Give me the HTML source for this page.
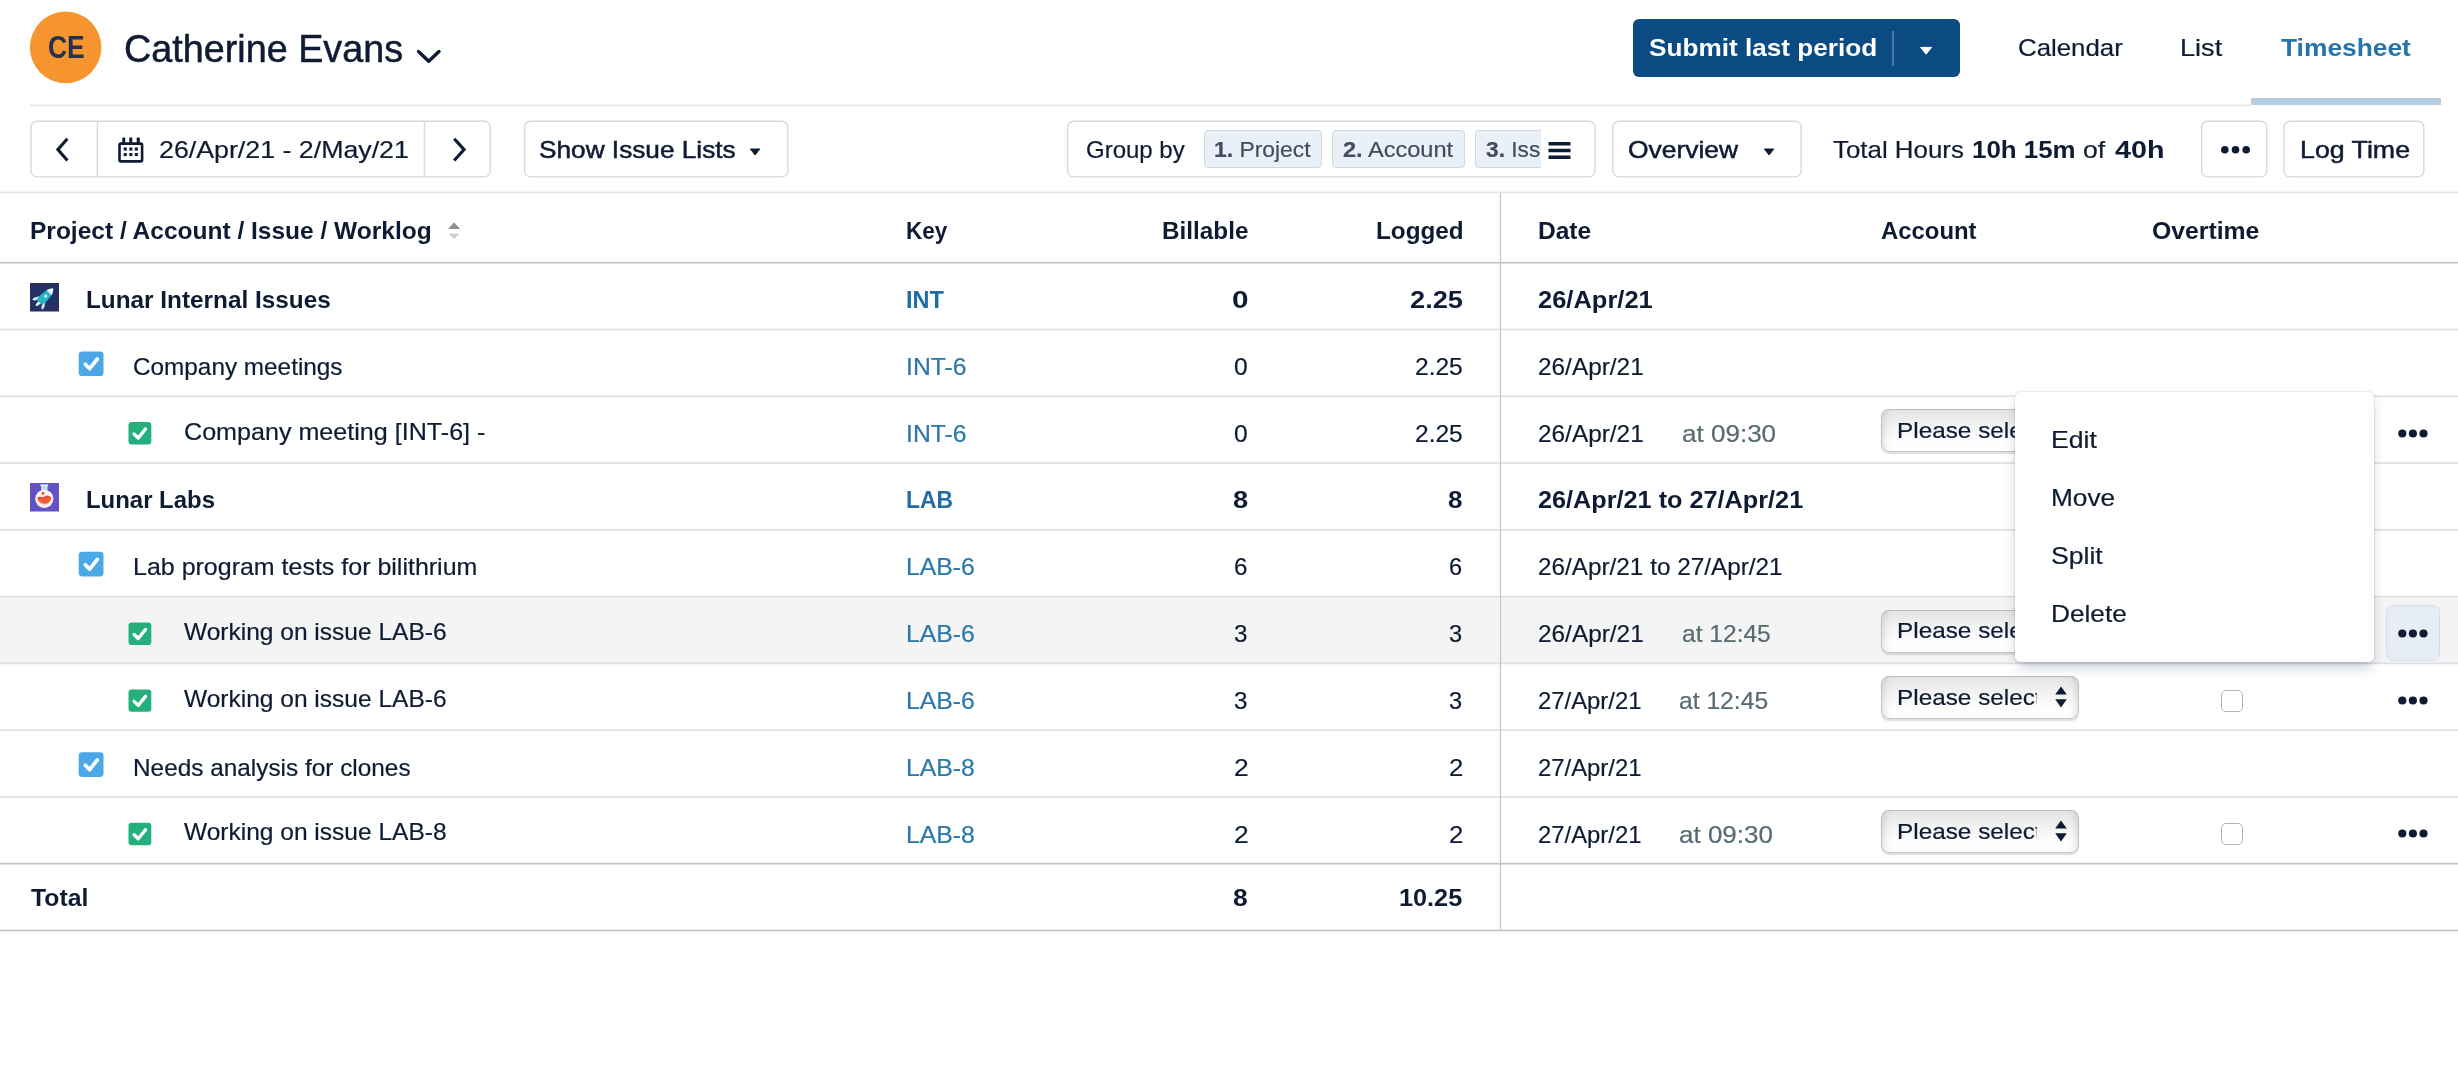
<!DOCTYPE html>
<html><head><meta charset="utf-8"><title>Timesheet</title>
<style>
html,body{margin:0;padding:0;background:#fff;}
body{width:2458px;height:1077px;position:relative;overflow:hidden;font-family:"Liberation Sans",sans-serif;}
.t{position:absolute;white-space:nowrap;transform-origin:0 0;font-family:"Liberation Sans",sans-serif;}
.a{position:absolute;}
.chip{position:absolute;box-sizing:border-box;top:130px;height:38px;background:#E9F0F7;border:1px solid #CFD9E4;border-radius:4px;}
.sel{position:absolute;left:1880.5px;width:198px;height:43px;box-sizing:border-box;border:1.5px solid #C6C6C6;border-top-color:#BDBDBD;border-radius:8px;background:linear-gradient(180deg,#E4E4E4 0%,#F1F1F1 35%,#FDFDFD 75%,#fff 100%);overflow:hidden;box-shadow:0 1.5px 1.5px rgba(0,0,0,.13),inset 9px 0 7px -7px rgba(0,0,0,.13),inset -9px 0 7px -7px rgba(0,0,0,.13);}
.sel svg{position:absolute;left:172.5px;top:9.3px;}
.ocb{position:absolute;left:2221px;width:22px;height:22px;box-sizing:border-box;border:1.5px solid #B4B4B4;border-radius:5px;background:#fff;}
.dots{position:absolute;left:2398px;width:30px;height:9px;line-height:0;font-size:0;}
svg{display:block;}

#wrap{position:absolute;left:0;top:0;width:2458px;height:1077px;will-change:transform;}
</style></head><body><div id="wrap">
<!-- header -->
<svg class="a" style="left:20px;top:0" width="100" height="100" viewBox="0 0 100 100"><circle cx="45.65" cy="47.4" r="35.8" fill="#F6942F"/></svg>
<svg class="a" style="left:414px;top:46px" width="30" height="20" viewBox="0 0 30 20"><path d="M4.5 5.5 L14.7 15.2 L25 5.5" fill="none" stroke="#0F1B33" stroke-width="3.4" stroke-linecap="round" stroke-linejoin="round"/></svg>
<div class="a" style="left:1633px;top:19px;width:327px;height:57.5px;border-radius:6px;background:#0C4B81;"></div>
<div class="a" style="left:1892px;top:31px;width:1.5px;height:35px;background:rgba(255,255,255,.26);"></div>
<svg class="a" style="left:1918px;top:45px" width="16" height="12" viewBox="0 0 16 12"><path d="M2.6 2.4 H13.6 L8.1 9.2 Z" fill="#fff" stroke="#fff" stroke-width="1" stroke-linejoin="round"/></svg>
<div class="a" style="left:2251px;top:98px;width:190px;height:7px;background:#B5CDE1;"></div>
<!-- toolbar -->
<svg class="a" style="left:0;top:0" width="2458" height="200" viewBox="0 0 2458 200">
<rect x="31.0" y="121.2" width="459.2" height="55.7" rx="6" fill="#fff" stroke="#D6D8DC" stroke-width="1.35"/>
<rect x="524.5" y="121.2" width="263.3" height="55.7" rx="6" fill="#fff" stroke="#D6D8DC" stroke-width="1.35"/>
<rect x="1067.6" y="121.2" width="527.4" height="55.7" rx="6" fill="#fff" stroke="#D6D8DC" stroke-width="1.35"/>
<rect x="1612.8" y="121.2" width="188.3" height="55.7" rx="6" fill="#fff" stroke="#D6D8DC" stroke-width="1.35"/>
<rect x="2201.6" y="121.2" width="65.2" height="55.7" rx="6" fill="#fff" stroke="#D6D8DC" stroke-width="1.35"/>
<rect x="2284.0" y="121.2" width="139.8" height="55.7" rx="6" fill="#fff" stroke="#D6D8DC" stroke-width="1.35"/>
<path d="M97.4 121.2 V176.9 M424.5 121.2 V176.9" stroke="#D9DBDE" stroke-width="1.5" fill="none"/>
<path d="M67.4 138.7 L57.9 149.6 L67.4 160.5" fill="none" stroke="#0F1B33" stroke-width="3.1" stroke-linejoin="miter"/>
<path d="M454.2 138.7 L464.1 149.6 L454.2 160.5" fill="none" stroke="#0F1B33" stroke-width="3.1" stroke-linejoin="miter"/>
<g fill="#0F1B33"><rect x="119.5" y="143.6" width="22.6" height="17.8" rx="1.3" fill="none" stroke="#0F1B33" stroke-width="2.6"/>
<rect x="122.3" y="137.5" width="2.9" height="6" rx="0.5"/>
<rect x="129.3" y="137.5" width="3.0" height="6" rx="0.5"/>
<rect x="136.7" y="137.5" width="3.1" height="6" rx="0.5"/>
<rect x="123.7" y="147.5" width="3.1" height="3.1"/>
<rect x="129.3" y="147.5" width="3.1" height="3.1"/>
<rect x="134.8" y="147.5" width="3.1" height="3.1"/>
<rect x="123.7" y="153.0" width="3.1" height="3.1"/>
<rect x="129.3" y="153.0" width="3.1" height="3.1"/>
<rect x="134.8" y="153.0" width="3.1" height="3.1"/>
</g></svg>
<svg class="a" style="left:747px;top:145.6px" width="16" height="12" viewBox="0 0 16 12"><path d="M3.4 3 H12.8 L8.1 9 Z" fill="#0F1B33" stroke="#0F1B33" stroke-width="1" stroke-linejoin="round"/></svg>
<div class="chip" style="left:1204px;width:118px;"></div>
<div class="chip" style="left:1332px;width:133px;"></div>
<div class="chip" style="left:1475px;width:65.5px;border-right:none;border-radius:4px 0 0 4px;"></div>
<svg class="a" style="left:1547px;top:139.6px" width="26" height="22" viewBox="0 0 26 22"><g fill="#0F1B33"><rect x="1.5" y="2" width="22" height="3.6" rx="0.6"/><rect x="1.5" y="8.7" width="22" height="3.6" rx="0.6"/><rect x="1.5" y="15.4" width="22" height="3.6" rx="0.6"/></g></svg>
<svg class="a" style="left:1761px;top:145.6px" width="16" height="12" viewBox="0 0 16 12"><path d="M3.4 3 H12.8 L8.1 9 Z" fill="#0F1B33" stroke="#0F1B33" stroke-width="1" stroke-linejoin="round"/></svg>
<svg class="a" style="left:2220px;top:145px" width="32" height="10" viewBox="0 0 32 10"><g fill="#0F1B33"><circle cx="4.8" cy="4.7" r="3.8"/><circle cx="15.5" cy="4.7" r="3.8"/><circle cx="26.2" cy="4.7" r="3.8"/></g></svg>
<!-- table -->
<div class="a" style="left:0;top:597px;width:2458px;height:66px;background:#F4F4F5;"></div>
<div class="a" style="left:30px;top:104px;width:2221px;height:1px;background:rgba(228,230,234,0.50)"></div>
<div class="a" style="left:30px;top:105px;width:2221px;height:1px;background:rgba(228,230,234,1.00)"></div>
<div class="a" style="left:30px;top:106px;width:2221px;height:1px;background:rgba(228,230,234,0.10)"></div>
<div class="a" style="left:0px;top:191px;width:2458px;height:1px;background:rgba(226,228,232,0.40)"></div>
<div class="a" style="left:0px;top:192px;width:2458px;height:1px;background:rgba(226,228,232,1.00)"></div>
<div class="a" style="left:0px;top:193px;width:2458px;height:1px;background:rgba(226,228,232,0.20)"></div>
<div class="a" style="left:0px;top:261px;width:2458px;height:1px;background:rgba(190,194,199,0.10)"></div>
<div class="a" style="left:0px;top:262px;width:2458px;height:1px;background:rgba(190,194,199,1.00)"></div>
<div class="a" style="left:0px;top:263px;width:2458px;height:1px;background:rgba(190,194,199,0.50)"></div>
<div class="a" style="left:0px;top:328px;width:2458px;height:1px;background:rgba(222,224,228,0.37)"></div>
<div class="a" style="left:0px;top:329px;width:2458px;height:1px;background:rgba(222,224,228,1.00)"></div>
<div class="a" style="left:0px;top:330px;width:2458px;height:1px;background:rgba(222,224,228,0.33)"></div>
<div class="a" style="left:0px;top:395px;width:2458px;height:1px;background:rgba(222,224,228,0.59)"></div>
<div class="a" style="left:0px;top:396px;width:2458px;height:1px;background:rgba(222,224,228,1.00)"></div>
<div class="a" style="left:0px;top:397px;width:2458px;height:1px;background:rgba(222,224,228,0.11)"></div>
<div class="a" style="left:0px;top:462px;width:2458px;height:1px;background:rgba(222,224,228,0.81)"></div>
<div class="a" style="left:0px;top:463px;width:2458px;height:1px;background:rgba(222,224,228,0.89)"></div>
<div class="a" style="left:0px;top:528px;width:2458px;height:1px;background:rgba(222,224,228,0.03)"></div>
<div class="a" style="left:0px;top:529px;width:2458px;height:1px;background:rgba(222,224,228,1.00)"></div>
<div class="a" style="left:0px;top:530px;width:2458px;height:1px;background:rgba(222,224,228,0.67)"></div>
<div class="a" style="left:0px;top:595px;width:2458px;height:1px;background:rgba(222,224,228,0.25)"></div>
<div class="a" style="left:0px;top:596px;width:2458px;height:1px;background:rgba(222,224,228,1.00)"></div>
<div class="a" style="left:0px;top:597px;width:2458px;height:1px;background:rgba(222,224,228,0.45)"></div>
<div class="a" style="left:0px;top:662px;width:2458px;height:1px;background:rgba(222,224,228,0.47)"></div>
<div class="a" style="left:0px;top:663px;width:2458px;height:1px;background:rgba(222,224,228,1.00)"></div>
<div class="a" style="left:0px;top:664px;width:2458px;height:1px;background:rgba(222,224,228,0.23)"></div>
<div class="a" style="left:0px;top:729px;width:2458px;height:1px;background:rgba(222,224,228,0.69)"></div>
<div class="a" style="left:0px;top:730px;width:2458px;height:1px;background:rgba(222,224,228,1.00)"></div>
<div class="a" style="left:0px;top:796px;width:2458px;height:1px;background:rgba(222,224,228,0.91)"></div>
<div class="a" style="left:0px;top:797px;width:2458px;height:1px;background:rgba(222,224,228,0.79)"></div>
<div class="a" style="left:0px;top:862px;width:2458px;height:1px;background:rgba(190,194,199,0.08)"></div>
<div class="a" style="left:0px;top:863px;width:2458px;height:1px;background:rgba(190,194,199,1.00)"></div>
<div class="a" style="left:0px;top:864px;width:2458px;height:1px;background:rgba(190,194,199,0.52)"></div>
<div class="a" style="left:0px;top:929px;width:2458px;height:1px;background:rgba(190,194,199,0.30)"></div>
<div class="a" style="left:0px;top:930px;width:2458px;height:1px;background:rgba(190,194,199,1.00)"></div>
<div class="a" style="left:0px;top:931px;width:2458px;height:1px;background:rgba(190,194,199,0.30)"></div>
<div class="a" style="left:1499px;top:193px;width:1px;height:738px;background:rgba(196,201,207,0.15)"></div>
<div class="a" style="left:1500px;top:193px;width:1px;height:738px;background:rgba(196,201,207,1.00)"></div>
<div class="a" style="left:1501px;top:193px;width:1px;height:738px;background:rgba(196,201,207,0.15)"></div>
<svg class="a" style="left:446px;top:220px" width="16" height="20" viewBox="0 0 16 20"><path d="M2.1 9 L8.1 2.2 L14.1 9 Z" fill="#8E9094"/><path d="M2.8 13.8 L8.1 19 L13.4 13.8 Z" fill="#CDCFD2"/></svg>
<!-- project icons -->
<svg class="a" style="left:30px;top:283px" width="29" height="28.5" viewBox="0 0 29 28.5">
 <rect width="29" height="28.5" fill="#263163"/>
 <g transform="translate(13.6 15.2) rotate(45)">
  <path d="M0 -13.6 C3.8 -10 4.8 -3 4.2 6 L-4.2 6 C-4.8 -3 -3.8 -10 0 -13.6 Z" fill="#25B3CB"/>
  <path d="M0 -13.6 C1.9 -11.8 2.9 -9.9 3.6 -7.8 L-3.6 -7.8 C-2.9 -9.9 -1.9 -11.8 0 -13.6 Z" fill="#E9F9FB"/>
  <circle cx="0" cy="-3" r="1.6" fill="#D8F4F8"/>
  <path d="M-4.2 1.6 L-7.2 6.6 L-6.8 9.4 L-3.9 7 Z" fill="#D6F2F6"/><path d="M4.2 1.6 L7.2 6.6 L6.8 9.4 L3.9 7 Z" fill="#D6F2F6"/>
  <path d="M-1.7 6 L1.7 6 L0.9 10.6 L-0.9 10.6 Z" fill="#F4FCFD"/>
 </g>
</svg>
<svg class="a" style="left:30px;top:483px" width="29" height="28.5" viewBox="0 0 29 28.5">
 <rect width="29" height="28.5" fill="#6152C6"/>
 <path d="M10.9 2.2 L17.7 2.2 L17.3 9 L11.3 9 Z" fill="#C4DBF7"/>
 <path d="M10.4 1.4 H18.2 V3 H10.4 Z" fill="#E6F0FC"/>
 <circle cx="14.3" cy="15.8" r="9.1" fill="#FCF4F1"/>
 <path d="M7.3 14.6 C9.8 12.2 12.2 15.8 14.8 13.6 C17.2 11.6 19.6 12.8 21.3 14.8 A7.1 7.1 0 0 1 7.3 14.6 Z" fill="#E8452C"/>
 <path d="M7.6 16 C10 14 12.2 17 14.8 15.2 C17.2 13.6 19.4 14.2 21.1 16 A6.9 6.9 0 0 1 7.6 16 Z" fill="#F4703F" opacity=".6"/>
 <circle cx="13" cy="10.4" r="1.4" fill="#E8452C"/>
</svg>
<svg class="a" style="left:76px;top:349px" width="32" height="32" viewBox="0 0 32 32"><rect x="2.7" y="2.40" width="24.8" height="24.7" rx="3.4" fill="#4AA8E8"/><path d="M9.30 15.30 L13.70 19.70 L21.30 10.00" fill="none" stroke="#fff" stroke-width="3.7" stroke-linecap="round" stroke-linejoin="round"/></svg>
<svg class="a" style="left:76px;top:549px" width="32" height="32" viewBox="0 0 32 32"><rect x="2.7" y="2.80" width="24.8" height="24.7" rx="3.4" fill="#4AA8E8"/><path d="M9.30 15.70 L13.70 20.10 L21.30 10.40" fill="none" stroke="#fff" stroke-width="3.7" stroke-linecap="round" stroke-linejoin="round"/></svg>
<svg class="a" style="left:76px;top:750px" width="32" height="32" viewBox="0 0 32 32"><rect x="2.7" y="2.30" width="24.8" height="24.7" rx="3.4" fill="#4AA8E8"/><path d="M9.30 15.20 L13.70 19.60 L21.30 9.90" fill="none" stroke="#fff" stroke-width="3.7" stroke-linecap="round" stroke-linejoin="round"/></svg>
<svg class="a" style="left:126px;top:420px" width="30" height="30" viewBox="0 0 30 30"><rect x="2.5" y="2.00" width="22.8" height="22.4" rx="3" fill="#24B07D"/><path d="M8.10 14.00 L12.20 18.00 L19.50 9.00" fill="none" stroke="#fff" stroke-width="3.4" stroke-linecap="round" stroke-linejoin="round"/></svg>
<svg class="a" style="left:126px;top:620px" width="30" height="30" viewBox="0 0 30 30"><rect x="2.5" y="2.50" width="22.8" height="22.4" rx="3" fill="#24B07D"/><path d="M8.10 14.50 L12.20 18.50 L19.50 9.50" fill="none" stroke="#fff" stroke-width="3.4" stroke-linecap="round" stroke-linejoin="round"/></svg>
<svg class="a" style="left:126px;top:687px" width="30" height="30" viewBox="0 0 30 30"><rect x="2.5" y="2.40" width="22.8" height="22.4" rx="3" fill="#24B07D"/><path d="M8.10 14.40 L12.20 18.40 L19.50 9.40" fill="none" stroke="#fff" stroke-width="3.4" stroke-linecap="round" stroke-linejoin="round"/></svg>
<svg class="a" style="left:126px;top:820px" width="30" height="30" viewBox="0 0 30 30"><rect x="2.5" y="2.80" width="22.8" height="22.4" rx="3" fill="#24B07D"/><path d="M8.10 14.80 L12.20 18.80 L19.50 9.80" fill="none" stroke="#fff" stroke-width="3.4" stroke-linecap="round" stroke-linejoin="round"/></svg>
<div class="sel" style="top:408.8px"><svg width="14" height="24" viewBox="0 0 14 24"><path d="M1.2 8.6 L7 0.6 L12.8 8.6 Z" fill="#0F1B33"/><path d="M1.2 13.2 L7 21.4 L12.8 13.2 Z" fill="#0F1B33"/></svg></div>
<div class="sel" style="top:609.5px"><svg width="14" height="24" viewBox="0 0 14 24"><path d="M1.2 8.6 L7 0.6 L12.8 8.6 Z" fill="#0F1B33"/><path d="M1.2 13.2 L7 21.4 L12.8 13.2 Z" fill="#0F1B33"/></svg></div>
<div class="sel" style="top:676px"><svg width="14" height="24" viewBox="0 0 14 24"><path d="M1.2 8.6 L7 0.6 L12.8 8.6 Z" fill="#0F1B33"/><path d="M1.2 13.2 L7 21.4 L12.8 13.2 Z" fill="#0F1B33"/></svg></div>
<div class="sel" style="top:809.8px"><svg width="14" height="24" viewBox="0 0 14 24"><path d="M1.2 8.6 L7 0.6 L12.8 8.6 Z" fill="#0F1B33"/><path d="M1.2 13.2 L7 21.4 L12.8 13.2 Z" fill="#0F1B33"/></svg></div>
<div class="ocb" style="top:689.5px"></div>
<div class="ocb" style="top:823.3px"></div>
<div class="a" style="left:2386px;top:604.5px;width:54px;height:56px;box-sizing:border-box;border:1px solid #D3DEEA;border-radius:7px;background:#E6EDF5;"></div>
<div class="dots" style="top:428.5px"><svg width="30" height="9" viewBox="0 0 30 9"><g fill="#0F1B33"><circle cx="4.3" cy="4.5" r="4.1"/><circle cx="14.9" cy="4.5" r="4.1"/><circle cx="25.5" cy="4.5" r="4.1"/></g></svg></div>
<div class="dots" style="top:629.0px"><svg width="30" height="9" viewBox="0 0 30 9"><g fill="#0F1B33"><circle cx="4.3" cy="4.5" r="4.1"/><circle cx="14.9" cy="4.5" r="4.1"/><circle cx="25.5" cy="4.5" r="4.1"/></g></svg></div>
<div class="dots" style="top:695.5px"><svg width="30" height="9" viewBox="0 0 30 9"><g fill="#0F1B33"><circle cx="4.3" cy="4.5" r="4.1"/><circle cx="14.9" cy="4.5" r="4.1"/><circle cx="25.5" cy="4.5" r="4.1"/></g></svg></div>
<div class="dots" style="top:829.0px"><svg width="30" height="9" viewBox="0 0 30 9"><g fill="#0F1B33"><circle cx="4.3" cy="4.5" r="4.1"/><circle cx="14.9" cy="4.5" r="4.1"/><circle cx="25.5" cy="4.5" r="4.1"/></g></svg></div>

<span class="t" id="t0" style="left:47.55px;top:32.2px;font-size:31px;line-height:31px;font-weight:bold;color:#25314F;transform:scaleX(0.8537)">CE</span>
<span class="t" id="t1" style="left:123.51px;top:29.5px;font-size:38px;line-height:38px;font-weight:normal;color:#0F1B33;-webkit-text-stroke:0.5px #0F1B33;transform:scaleX(0.9935)">Catherine Evans</span>
<span class="t" id="t2" style="left:1649.13px;top:36.1px;font-size:24.5px;line-height:24.5px;font-weight:bold;color:#fff;transform:scaleX(1.0682)">Submit last period</span>
<span class="t" id="t3" style="left:2018.12px;top:36.4px;font-size:24px;line-height:24px;font-weight:normal;color:#0F1B33;-webkit-text-stroke:0.2px;transform:scaleX(1.0760)">Calendar</span>
<span class="t" id="t4" style="left:2180.24px;top:36.4px;font-size:24px;line-height:24px;font-weight:normal;color:#0F1B33;-webkit-text-stroke:0.2px;transform:scaleX(1.1286)">List</span>
<span class="t" id="t5" style="left:2281.10px;top:36.0px;font-size:24.5px;line-height:24.5px;font-weight:bold;color:#2774AA;transform:scaleX(1.0758)">Timesheet</span>
<span class="t" id="t6" style="left:158.89px;top:138.0px;font-size:24px;line-height:24px;font-weight:normal;color:#0F1B33;-webkit-text-stroke:0.2px;transform:scaleX(1.1149)">26/Apr/21 - 2/May/21</span>
<span class="t" id="t7" style="left:538.91px;top:138.0px;font-size:24px;line-height:24px;font-weight:normal;color:#0F1B33;-webkit-text-stroke:0.5px #0F1B33;transform:scaleX(1.0922)">Show Issue Lists</span>
<span class="t" id="t8" style="left:1086.00px;top:138.0px;font-size:24px;line-height:24px;font-weight:normal;color:#0F1B33;-webkit-text-stroke:0.2px;transform:scaleX(1.0000)">Group by</span>
<span class="t" id="t9" style="left:1214.48px;top:139.1px;font-size:22.5px;line-height:22.5px;font-weight:normal;color:#3E4E5E;-webkit-text-stroke:0.2px;transform:scaleX(1.0160)"><b>1.</b> Project</span>
<span class="t" id="t10" style="left:1343.45px;top:139.1px;font-size:22.5px;line-height:22.5px;font-weight:normal;color:#3E4E5E;-webkit-text-stroke:0.2px;transform:scaleX(1.0481)"><b>2.</b> Account</span>
<span class="t" id="t11" style="left:1485.99px;top:139.1px;font-size:22.5px;line-height:22.5px;font-weight:normal;color:#3E4E5E;-webkit-text-stroke:0.2px;transform:scaleX(1.0096)"><b>3.</b> Iss</span>
<span class="t" id="t12" style="left:1628.40px;top:138.0px;font-size:24px;line-height:24px;font-weight:normal;color:#0F1B33;-webkit-text-stroke:0.5px #0F1B33;transform:scaleX(1.1010)">Overview</span>
<span class="t" id="t13" style="left:1832.60px;top:138.0px;font-size:24px;line-height:24px;font-weight:normal;color:#0F1B33;-webkit-text-stroke:0.2px;transform:scaleX(1.0777)">Total Hours</span>
<span class="t" id="t14" style="left:1972.32px;top:138.0px;font-size:24px;line-height:24px;font-weight:bold;color:#0F1B33;transform:scaleX(1.0777)">10h 15m</span>
<span class="t" id="t15" style="left:2082.89px;top:138.0px;font-size:24px;line-height:24px;font-weight:normal;color:#0F1B33;-webkit-text-stroke:0.2px;transform:scaleX(1.1053)">of</span>
<span class="t" id="t16" style="left:2115.40px;top:138.0px;font-size:24px;line-height:24px;font-weight:bold;color:#0F1B33;transform:scaleX(1.1950)">40h</span>
<span class="t" id="t17" style="left:2299.77px;top:138.0px;font-size:24px;line-height:24px;font-weight:normal;color:#0F1B33;-webkit-text-stroke:0.5px #0F1B33;transform:scaleX(1.1146)">Log Time</span>
<span class="t" id="t18" style="left:29.76px;top:219.3px;font-size:24px;line-height:24px;font-weight:bold;color:#0F1B33;transform:scaleX(1.0210)">Project / Account / Issue / Worklog</span>
<span class="t" id="t19" style="left:906.02px;top:219.3px;font-size:24px;line-height:24px;font-weight:bold;color:#0F1B33;transform:scaleX(0.9381)">Key</span>
<span class="t" id="t20" style="left:1161.68px;top:219.3px;font-size:24px;line-height:24px;font-weight:bold;color:#0F1B33;transform:scaleX(1.0120)">Billable</span>
<span class="t" id="t21" style="left:1375.68px;top:219.3px;font-size:24px;line-height:24px;font-weight:bold;color:#0F1B33;transform:scaleX(1.0120)">Logged</span>
<span class="t" id="t22" style="left:1537.86px;top:219.3px;font-size:24px;line-height:24px;font-weight:bold;color:#0F1B33;transform:scaleX(1.0224)">Date</span>
<span class="t" id="t23" style="left:1881.31px;top:219.3px;font-size:24px;line-height:24px;font-weight:bold;color:#0F1B33;transform:scaleX(0.9947)">Account</span>
<span class="t" id="t24" style="left:2151.77px;top:219.3px;font-size:24px;line-height:24px;font-weight:bold;color:#0F1B33;transform:scaleX(1.0314)">Overtime</span>
<span class="t" id="t25" style="left:85.67px;top:288.3px;font-size:24px;line-height:24px;font-weight:bold;color:#0F1B33;transform:scaleX(1.0139)">Lunar Internal Issues</span>
<span class="t" id="t26" style="left:906.14px;top:288.3px;font-size:24px;line-height:24px;font-weight:bold;color:#1F6DA6;transform:scaleX(0.9784)">INT</span>
<span class="t" id="t27" style="left:1232.46px;top:288.3px;font-size:24px;line-height:24px;font-weight:bold;color:#0F1B33;transform:scaleX(1.2364)">0</span>
<span class="t" id="t28" style="left:1409.87px;top:288.3px;font-size:24px;line-height:24px;font-weight:bold;color:#0F1B33;transform:scaleX(1.1333)">2.25</span>
<span class="t" id="t29" style="left:1537.94px;top:288.3px;font-size:24px;line-height:24px;font-weight:bold;color:#0F1B33;transform:scaleX(1.0617)">26/Apr/21</span>
<span class="t" id="t30" style="left:133.29px;top:354.8px;font-size:24px;line-height:24px;font-weight:normal;color:#0F1B33;-webkit-text-stroke:0.2px;transform:scaleX(1.0132)">Company meetings</span>
<span class="t" id="t31" style="left:906.14px;top:354.8px;font-size:24px;line-height:24px;font-weight:normal;color:#2C78A9;-webkit-text-stroke:0.2px;transform:scaleX(1.0321)">INT-6</span>
<span class="t" id="t32" style="left:1233.97px;top:354.8px;font-size:24px;line-height:24px;font-weight:normal;color:#0F1B33;-webkit-text-stroke:0.2px;transform:scaleX(1.0250)">0</span>
<span class="t" id="t33" style="left:1414.98px;top:354.8px;font-size:24px;line-height:24px;font-weight:normal;color:#0F1B33;-webkit-text-stroke:0.2px;transform:scaleX(1.0222)">2.25</span>
<span class="t" id="t34" style="left:1537.98px;top:354.8px;font-size:24px;line-height:24px;font-weight:normal;color:#0F1B33;-webkit-text-stroke:0.2px;transform:scaleX(1.0157)">26/Apr/21</span>
<span class="t" id="t35" style="left:183.75px;top:420.0px;font-size:24px;line-height:24px;font-weight:normal;color:#0F1B33;-webkit-text-stroke:0.2px;transform:scaleX(1.0462)">Company meeting [INT-6] -</span>
<span class="t" id="t36" style="left:906.14px;top:421.5px;font-size:24px;line-height:24px;font-weight:normal;color:#2C78A9;-webkit-text-stroke:0.2px;transform:scaleX(1.0321)">INT-6</span>
<span class="t" id="t37" style="left:1233.97px;top:421.5px;font-size:24px;line-height:24px;font-weight:normal;color:#0F1B33;-webkit-text-stroke:0.2px;transform:scaleX(1.0250)">0</span>
<span class="t" id="t38" style="left:1414.98px;top:421.5px;font-size:24px;line-height:24px;font-weight:normal;color:#0F1B33;-webkit-text-stroke:0.2px;transform:scaleX(1.0222)">2.25</span>
<span class="t" id="t39" style="left:1537.98px;top:421.5px;font-size:24px;line-height:24px;font-weight:normal;color:#0F1B33;-webkit-text-stroke:0.2px;transform:scaleX(1.0157)">26/Apr/21</span>
<span class="t" id="t40" style="left:1681.52px;top:421.5px;font-size:24px;line-height:24px;font-weight:normal;color:#586A71;-webkit-text-stroke:0.2px;transform:scaleX(1.0847)">at 09:30</span>
<span class="t" id="t41" style="left:85.71px;top:488.3px;font-size:24px;line-height:24px;font-weight:bold;color:#0F1B33;transform:scaleX(0.9968)">Lunar Labs</span>
<span class="t" id="t42" style="left:906.00px;top:488.3px;font-size:24px;line-height:24px;font-weight:bold;color:#1F6DA6;transform:scaleX(0.9522)">LAB</span>
<span class="t" id="t43" style="left:1232.57px;top:488.3px;font-size:24px;line-height:24px;font-weight:bold;color:#0F1B33;transform:scaleX(1.1333)">8</span>
<span class="t" id="t44" style="left:1447.92px;top:488.3px;font-size:24px;line-height:24px;font-weight:bold;color:#0F1B33;transform:scaleX(1.0833)">8</span>
<span class="t" id="t45" style="left:1537.95px;top:488.3px;font-size:24px;line-height:24px;font-weight:bold;color:#0F1B33;transform:scaleX(1.0518)">26/Apr/21 to 27/Apr/21</span>
<span class="t" id="t46" style="left:133.32px;top:555.2px;font-size:24px;line-height:24px;font-weight:normal;color:#0F1B33;-webkit-text-stroke:0.2px;transform:scaleX(1.0410)">Lab program tests for bilithrium</span>
<span class="t" id="t47" style="left:906.03px;top:555.2px;font-size:24px;line-height:24px;font-weight:normal;color:#2C78A9;-webkit-text-stroke:0.2px;transform:scaleX(1.0328)">LAB-6</span>
<span class="t" id="t48" style="left:1234.19px;top:555.2px;font-size:24px;line-height:24px;font-weight:normal;color:#0F1B33;-webkit-text-stroke:0.2px;transform:scaleX(1.0083)">6</span>
<span class="t" id="t49" style="left:1449.22px;top:555.2px;font-size:24px;line-height:24px;font-weight:normal;color:#0F1B33;-webkit-text-stroke:0.2px;transform:scaleX(0.9833)">6</span>
<span class="t" id="t50" style="left:1537.99px;top:555.2px;font-size:24px;line-height:24px;font-weight:normal;color:#0F1B33;-webkit-text-stroke:0.2px;transform:scaleX(1.0125)">26/Apr/21 to 27/Apr/21</span>
<span class="t" id="t51" style="left:183.90px;top:620.0px;font-size:24px;line-height:24px;font-weight:normal;color:#0F1B33;-webkit-text-stroke:0.2px;transform:scaleX(1.0215)">Working on issue LAB-6</span>
<span class="t" id="t52" style="left:906.03px;top:622.0px;font-size:24px;line-height:24px;font-weight:normal;color:#2C78A9;-webkit-text-stroke:0.2px;transform:scaleX(1.0328)">LAB-6</span>
<span class="t" id="t53" style="left:1234.19px;top:622.0px;font-size:24px;line-height:24px;font-weight:normal;color:#0F1B33;-webkit-text-stroke:0.2px;transform:scaleX(1.0083)">3</span>
<span class="t" id="t54" style="left:1449.22px;top:622.0px;font-size:24px;line-height:24px;font-weight:normal;color:#0F1B33;-webkit-text-stroke:0.2px;transform:scaleX(0.9833)">3</span>
<span class="t" id="t55" style="left:1537.98px;top:622.0px;font-size:24px;line-height:24px;font-weight:normal;color:#0F1B33;-webkit-text-stroke:0.2px;transform:scaleX(1.0157)">26/Apr/21</span>
<span class="t" id="t56" style="left:1681.58px;top:622.0px;font-size:24px;line-height:24px;font-weight:normal;color:#586A71;-webkit-text-stroke:0.2px;transform:scaleX(1.0235)">at 12:45</span>
<span class="t" id="t57" style="left:183.90px;top:686.5px;font-size:24px;line-height:24px;font-weight:normal;color:#0F1B33;-webkit-text-stroke:0.2px;transform:scaleX(1.0215)">Working on issue LAB-6</span>
<span class="t" id="t58" style="left:906.03px;top:688.6px;font-size:24px;line-height:24px;font-weight:normal;color:#2C78A9;-webkit-text-stroke:0.2px;transform:scaleX(1.0328)">LAB-6</span>
<span class="t" id="t59" style="left:1234.19px;top:688.6px;font-size:24px;line-height:24px;font-weight:normal;color:#0F1B33;-webkit-text-stroke:0.2px;transform:scaleX(1.0083)">3</span>
<span class="t" id="t60" style="left:1449.22px;top:688.6px;font-size:24px;line-height:24px;font-weight:normal;color:#0F1B33;-webkit-text-stroke:0.2px;transform:scaleX(0.9833)">3</span>
<span class="t" id="t61" style="left:1538.01px;top:688.6px;font-size:24px;line-height:24px;font-weight:normal;color:#0F1B33;-webkit-text-stroke:0.2px;transform:scaleX(0.9941)">27/Apr/21</span>
<span class="t" id="t62" style="left:1679.27px;top:688.6px;font-size:24px;line-height:24px;font-weight:normal;color:#586A71;-webkit-text-stroke:0.2px;transform:scaleX(1.0271)">at 12:45</span>
<span class="t" id="t63" style="left:133.27px;top:755.6px;font-size:24px;line-height:24px;font-weight:normal;color:#0F1B33;-webkit-text-stroke:0.2px;transform:scaleX(1.0151)">Needs analysis for clones</span>
<span class="t" id="t64" style="left:906.03px;top:755.6px;font-size:24px;line-height:24px;font-weight:normal;color:#2C78A9;-webkit-text-stroke:0.2px;transform:scaleX(1.0328)">LAB-8</span>
<span class="t" id="t65" style="left:1234.10px;top:755.6px;font-size:24px;line-height:24px;font-weight:normal;color:#0F1B33;-webkit-text-stroke:0.2px;transform:scaleX(1.1000)">2</span>
<span class="t" id="t66" style="left:1449.13px;top:755.6px;font-size:24px;line-height:24px;font-weight:normal;color:#0F1B33;-webkit-text-stroke:0.2px;transform:scaleX(1.0727)">2</span>
<span class="t" id="t67" style="left:1538.01px;top:755.6px;font-size:24px;line-height:24px;font-weight:normal;color:#0F1B33;-webkit-text-stroke:0.2px;transform:scaleX(0.9941)">27/Apr/21</span>
<span class="t" id="t68" style="left:183.90px;top:820.3px;font-size:24px;line-height:24px;font-weight:normal;color:#0F1B33;-webkit-text-stroke:0.2px;transform:scaleX(1.0215)">Working on issue LAB-8</span>
<span class="t" id="t69" style="left:906.03px;top:822.6px;font-size:24px;line-height:24px;font-weight:normal;color:#2C78A9;-webkit-text-stroke:0.2px;transform:scaleX(1.0328)">LAB-8</span>
<span class="t" id="t70" style="left:1234.10px;top:822.6px;font-size:24px;line-height:24px;font-weight:normal;color:#0F1B33;-webkit-text-stroke:0.2px;transform:scaleX(1.1000)">2</span>
<span class="t" id="t71" style="left:1449.13px;top:822.6px;font-size:24px;line-height:24px;font-weight:normal;color:#0F1B33;-webkit-text-stroke:0.2px;transform:scaleX(1.0727)">2</span>
<span class="t" id="t72" style="left:1538.01px;top:822.6px;font-size:24px;line-height:24px;font-weight:normal;color:#0F1B33;-webkit-text-stroke:0.2px;transform:scaleX(0.9941)">27/Apr/21</span>
<span class="t" id="t73" style="left:1679.22px;top:822.6px;font-size:24px;line-height:24px;font-weight:normal;color:#586A71;-webkit-text-stroke:0.2px;transform:scaleX(1.0824)">at 09:30</span>
<span class="t" id="t74" style="left:1897.44px;top:419.8px;font-size:22.5px;line-height:22.5px;font-weight:normal;color:#0F1B33;-webkit-text-stroke:0.2px;clip-path:inset(-5px calc(100% - 129.37px) -5px 0);transform:scaleX(1.0811)">Please select</span>
<span class="t" id="t75" style="left:1897.44px;top:620.3px;font-size:22.5px;line-height:22.5px;font-weight:normal;color:#0F1B33;-webkit-text-stroke:0.2px;clip-path:inset(-5px calc(100% - 129.37px) -5px 0);transform:scaleX(1.0811)">Please select</span>
<span class="t" id="t76" style="left:1897.44px;top:686.7px;font-size:22.5px;line-height:22.5px;font-weight:normal;color:#0F1B33;-webkit-text-stroke:0.2px;clip-path:inset(-5px calc(100% - 129.37px) -5px 0);transform:scaleX(1.0811)">Please select</span>
<span class="t" id="t77" style="left:1897.44px;top:820.7px;font-size:22.5px;line-height:22.5px;font-weight:normal;color:#0F1B33;-webkit-text-stroke:0.2px;clip-path:inset(-5px calc(100% - 129.37px) -5px 0);transform:scaleX(1.0811)">Please select</span>
<span class="t" id="t78" style="left:30.70px;top:886.2px;font-size:24px;line-height:24px;font-weight:bold;color:#0F1B33;transform:scaleX(1.0315)">Total</span>
<span class="t" id="t79" style="left:1233.20px;top:886.2px;font-size:24px;line-height:24px;font-weight:bold;color:#0F1B33;transform:scaleX(1.1000)">8</span>
<span class="t" id="t80" style="left:1398.85px;top:886.2px;font-size:24px;line-height:24px;font-weight:bold;color:#0F1B33;transform:scaleX(1.0525)">10.25</span>
<div class="a" style="left:2015px;top:392px;width:358.5px;height:270px;background:#fff;border-radius:5px;box-shadow:0 6.5px 13px -3.3px rgba(9,30,66,.27),0 0 1.7px rgba(9,30,66,.3);"></div>

<span class="t" id="t81" style="left:2050.58px;top:428.2px;font-size:24px;line-height:24px;font-weight:normal;color:#0F1B33;-webkit-text-stroke:0.2px;transform:scaleX(1.1077)">Edit</span>
<span class="t" id="t82" style="left:2050.61px;top:486.2px;font-size:24px;line-height:24px;font-weight:normal;color:#0F1B33;-webkit-text-stroke:0.2px;transform:scaleX(1.0929)">Move</span>
<span class="t" id="t83" style="left:2051.19px;top:543.9px;font-size:24px;line-height:24px;font-weight:normal;color:#0F1B33;-webkit-text-stroke:0.2px;transform:scaleX(1.1065)">Split</span>
<span class="t" id="t84" style="left:2050.61px;top:601.8px;font-size:24px;line-height:24px;font-weight:normal;color:#0F1B33;-webkit-text-stroke:0.2px;transform:scaleX(1.0925)">Delete</span>
</div></body></html>
